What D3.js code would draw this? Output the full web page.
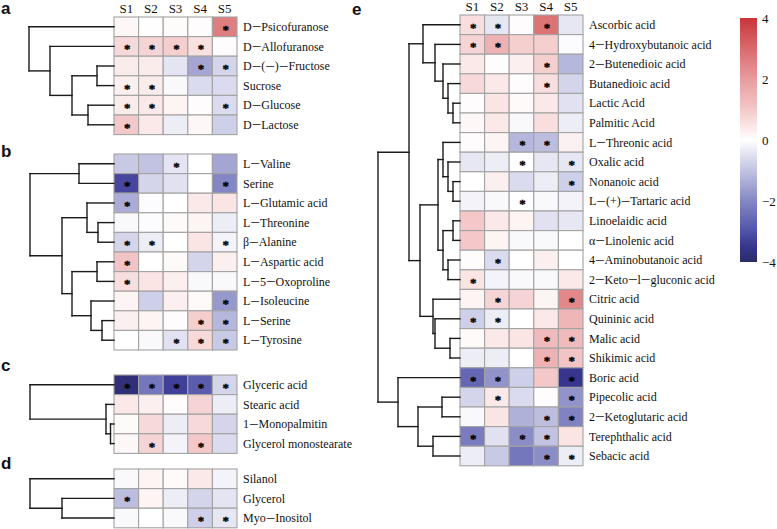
<!DOCTYPE html>
<html><head><meta charset="utf-8">
<script src="https://cdn.jsdelivr.net/npm/d3@7"></script>
<style>body{margin:0;background:#fff}svg{display:block}</style>
</head><body>
<svg id="chart" width="777" height="529"></svg>
<script>
const samples = ["S1","S2","S3","S4","S5"];

// ---- panel a ----
const rowsA = ["D−Psicofuranose","D−Allofuranose","D−(−)−Fructose","Sucrose","D−Glucose","D−Lactose"];
const valuesA = [
  [0.15,0.02,0.08,0.05,2.6],
  [0.7,0.8,0.9,0.55,0.05],
  [0.35,0.35,-0.45,-1.5,-0.7],
  [0.3,0.35,-0.1,-0.6,-0.6],
  [0.35,0.4,0.2,0.05,-0.6],
  [1.0,0.4,-0.3,0.15,-0.8]];
const sigA = [[0,0,0,0,1],[1,1,1,1,0],[0,0,0,1,1],[1,1,0,0,0],[1,1,0,0,1],[1,0,0,0,0]];
const treeA = [85,0,[64,1,[42,[17,2,3],[26,4,5]]]];

// ---- panel b ----
const rowsB = ["L−Valine","Serine","L−Glutamic acid","L−Threonine","β−Alanine","L−Aspartic acid","L−5−Oxoproline","L−Isoleucine","L−Serine","L−Tyrosine"];
const valuesB = [
  [-0.9,-1.0,-0.45,0.0,-1.5],
  [-3.2,-0.7,-0.5,0.0,-2.0],
  [-1.4,-0.05,0.0,0.4,0.5],
  [-0.1,-0.05,0.1,0.2,-0.3],
  [-0.7,-0.3,0.0,0.5,-0.2],
  [1.1,0.0,0.1,-0.7,0.3],
  [0.6,0.5,0.3,-0.1,-0.1],
  [0.2,-0.8,0.3,0.1,-1.7],
  [0.3,0.2,0.05,0.9,-1.2],
  [0.0,-0.1,-0.5,0.7,-0.9]];
const sigB = [[0,0,1,0,0],[1,0,0,0,1],[1,0,0,0,0],[0,0,0,0,0],[1,1,0,0,1],[1,0,0,0,0],[1,0,0,0,0],[0,0,0,0,1],[0,0,0,1,1],[0,0,1,1,1]];
const treeB = [84,[35,0,1],[52,[27,2,[16,3,4]],[42,[17,5,6],[23,7,[12,8,9]]]]];

// ---- panel c ----
const rowsC = ["Glyceric acid","Stearic acid","1−Monopalmitin","Glycerol monostearate"];
const valuesC = [
  [-3.8,-2.3,-3.3,-2.8,-0.7],
  [0.4,0.3,0.05,0.8,-0.3],
  [0.1,0.7,-0.3,0.7,-0.7],
  [0.15,0.8,-0.2,1.0,-0.6]];
const sigC = [[1,1,1,1,1],[0,0,0,0,0],[0,0,0,0,0],[0,1,0,1,0]];
const treeC = [84,0,[8,1,[3.5,2,3]]];

// ---- panel d ----
const rowsD = ["Silanol","Glycerol","Myo−Inositol"];
const valuesD = [
  [-0.1,0.2,0.1,0.4,-0.2],
  [-1.1,0.2,-0.3,-0.7,-0.45],
  [-0.1,0.0,-0.1,-0.8,-0.4]];
const sigD = [[0,0,0,0,0],[1,0,0,0,0],[0,0,0,1,1]];
const treeD = [84,0,[52,1,2]];

// ---- panel e ----
const rowsE = ["Ascorbic acid","4−Hydroxybutanoic acid","2−Butenedioic acid","Butanedioic acid","Lactic Acid","Palmitic Acid","L−Threonic acid","Oxalic acid","Nonanoic acid","L−(+)−Tartaric acid","Linoelaidic acid","α−Linolenic acid","4−Aminobutanoic acid","2−Keto−l−gluconic acid","Citric acid","Quininic acid","Malic acid","Shikimic acid","Boric acid","Pipecolic acid","2−Ketoglutaric acid","Terephthalic acid","Sebacic acid"];
const valuesE = [
  [0.6,-0.4,0.05,2.8,-0.4],
  [0.8,1.5,0.9,0.9,-0.05],
  [0.4,0.05,0.3,0.9,-1.2],
  [0.7,0.4,0.05,0.6,-0.7],
  [0.05,0.5,0.1,0.4,-0.5],
  [0.15,0.4,-0.1,0.6,-0.3],
  [0.05,0.2,-1.2,-1.1,0.25],
  [-0.4,-0.3,0.0,-0.4,-0.4],
  [0.0,0.3,-0.6,-0.3,-0.8],
  [-0.2,-0.1,0.0,-0.1,-0.2],
  [1.0,0.4,0.2,-0.5,-0.4],
  [1.0,0.2,-0.1,-0.1,0.0],
  [0.05,-0.6,0.0,0.3,0.0],
  [0.5,-0.2,-0.1,-0.1,0.4],
  [0.2,0.8,0.8,0.2,2.4],
  [-0.8,-0.3,0.0,0.4,1.4],
  [0.1,0.4,0.5,1.3,1.3],
  [-0.3,-0.3,0.0,1.5,1.1],
  [-2.6,-1.8,-0.8,1.0,-3.5],
  [-0.7,0.4,-0.6,0.05,-1.8],
  [-0.1,0.5,-1.3,-1.1,-2.1],
  [-2.2,-0.5,-1.9,-1.0,0.5],
  [-0.3,-0.9,-2.3,-1.9,-0.3]];
const sigE = [[1,1,0,1,0],[1,1,0,0,0],[0,0,0,1,0],[0,0,0,1,0],[0,0,0,0,0],[0,0,0,0,0],[0,0,1,1,0],[0,0,1,0,1],[0,0,0,0,1],[0,0,1,0,0],[0,0,0,0,0],[0,0,0,0,0],[0,1,0,0,0],[1,0,0,0,0],[0,1,0,0,1],[1,1,0,0,0],[0,0,0,1,1],[0,0,0,1,1],[1,1,0,0,1],[0,1,0,0,1],[0,0,0,1,1],[1,0,1,1,0],[0,0,0,1,1]];
const treeE = [82,
  [51,
    [37,0,[25,1,[17,2,[12,3,[7,4,5]]]]],
    [40,
      [22,[17,6,[12,7,[7,8,9]]],[17,[7,10,11],[12,12,13]]],
      [27,14,[25,15,[10,16,17]]]]],
  [62,18,[42,[18,19,20],[27,21,22]]]];

const colorTicks = [4,2,0,-2,-4];

// ---------- drawing ----------
const svg = d3.select("#chart");
const color = d3.scaleLinear()
  .domain([-4,-3.5,-3,-2,-1,0,1,2,3,4])
  .range(["#2b2b68","#37358e","#5151a9","#8587c4","#c2c3e2","#ffffff","#f4c8c9","#e89c9e","#d96a6c","#c8353a"])
  .clamp(true);

const serif = "'Liberation Serif','Times New Roman',Times,serif";
const CW = 24.6, RH = 19.6;

// write a label; the minus sign is drawn wider, as the original plot device does
function label(sel, txt){
  const parts = String(txt).split("−");
  parts.forEach((p,k)=>{
    if(k>0) sel.append("tspan").attr("font-size",17).attr("dy",1.3).text("−");
    const t = sel.append("tspan").text(p);
    if(k>0) t.attr("dy",-1.3);
  });
}

function panel(cfg){
  const {rows, values, sig, tree, gx, gy, letter, lx, ly, header} = cfg;
  const g = svg.append("g");
  const x = d3.scaleBand().domain(samples).range([gx, gx + CW*samples.length]);
  const y = d3.scaleBand().domain(d3.range(rows.length)).range([gy, gy + RH*rows.length]);
  const cells = [];
  values.forEach((r,i)=>r.forEach((v,j)=>cells.push({i,j,v,s:sig[i][j]})));
  g.selectAll("rect.cell").data(cells).join("rect")
    .attr("x",d=>x(samples[d.j])).attr("y",d=>y(d.i))
    .attr("width",x.bandwidth()).attr("height",y.bandwidth())
    .attr("fill",d=>color(d.v)).attr("stroke","#a3a3a3").attr("stroke-width",1.1);
  g.selectAll("text.star").data(cells.filter(d=>d.s)).join("text")
    .attr("x",d=>x(samples[d.j])+x.bandwidth()/2+1)
    .attr("y",d=>y(d.i)+y.bandwidth()/2+7)
    .attr("text-anchor","middle").attr("font-family",serif).attr("font-size",13)
    .attr("font-weight","bold").attr("fill","#000")
    .attr("stroke","#000").attr("stroke-width",0.35).text("*");
  g.selectAll("text.row").data(rows).join("text")
    .attr("x",gx + CW*samples.length + 6)
    .attr("y",(d,i)=>y(i)+y.bandwidth()/2)
    .attr("dy","0.35em").attr("font-family",serif).attr("font-size",12)
    .attr("fill","#111").each(function(d){ label(d3.select(this), d); });
  if(header){
    g.selectAll("text.col").data(samples).join("text")
      .attr("x",d=>x(d)+x.bandwidth()/2).attr("y",gy-4)
      .attr("text-anchor","middle").attr("font-family",serif).attr("font-size",13)
      .attr("fill","#111").text(d=>d);
  }
  // dendrogram
  const tx = d3.scaleLinear().domain([0,85]).range([gx, gx-85]);
  const segs = [];
  function walk(n){
    if(typeof n === "number") return {h:0, yy:y(n)+y.bandwidth()/2};
    const a = walk(n[1]), b = walk(n[2]);
    const h = n[0];
    segs.push([tx(h),a.yy,tx(h),b.yy]);
    segs.push([tx(h),a.yy,tx(a.h),a.yy]);
    segs.push([tx(h),b.yy,tx(b.h),b.yy]);
    return {h, yy:(a.yy+b.yy)/2};
  }
  walk(tree);
  g.selectAll("line.den").data(segs).join("line")
    .attr("x1",d=>d[0]).attr("y1",d=>d[1]).attr("x2",d=>d[2]).attr("y2",d=>d[3])
    .attr("stroke","#1a1a1a").attr("stroke-width",1.4).attr("stroke-linecap","square");
  svg.append("text").attr("x",lx).attr("y",ly)
    .attr("font-family","'Liberation Sans',Arial,sans-serif").attr("font-weight","bold")
    .attr("font-size",17).attr("fill","#111").text(letter);
}

panel({rows:rowsA, values:valuesA, sig:sigA, tree:treeA, gx:114, gy:17, letter:"a", lx:1, ly:14, header:true});
panel({rows:rowsB, values:valuesB, sig:sigB, tree:treeB, gx:114, gy:154, letter:"b", lx:1, ly:157, header:false});
panel({rows:rowsC, values:valuesC, sig:sigC, tree:treeC, gx:114, gy:375, letter:"c", lx:1, ly:371, header:false});
panel({rows:rowsD, values:valuesD, sig:sigD, tree:treeD, gx:114, gy:469, letter:"d", lx:1, ly:469, header:false});
panel({rows:rowsE, values:valuesE, sig:sigE, tree:treeE, gx:460, gy:15, letter:"e", lx:352, ly:15, header:true});

// colour bar
const cb = d3.scaleLinear().domain([-4,4]).range([262,18]);
const defs = svg.append("defs");
const grad = defs.append("linearGradient").attr("id","cbg").attr("x1",0).attr("y1",1).attr("x2",0).attr("y2",0);
grad.selectAll("stop").data(d3.range(-4,4.01,0.25)).join("stop")
  .attr("offset",d=>(d+4)/8).attr("stop-color",d=>color(d));
svg.append("rect").attr("x",740).attr("y",cb(4)).attr("width",17).attr("height",cb(-4)-cb(4)).attr("fill","url(#cbg)");
const ax = svg.append("g").attr("transform","translate(757,0)")
  .call(d3.axisRight(cb).tickValues(colorTicks).tickSize(0).tickPadding(5).tickFormat(d=>d<0?"−"+Math.abs(d):d));
ax.select(".domain").remove();
ax.selectAll("text").attr("font-family",serif).attr("font-size",13).attr("fill","#111");
</script>
</body></html>
